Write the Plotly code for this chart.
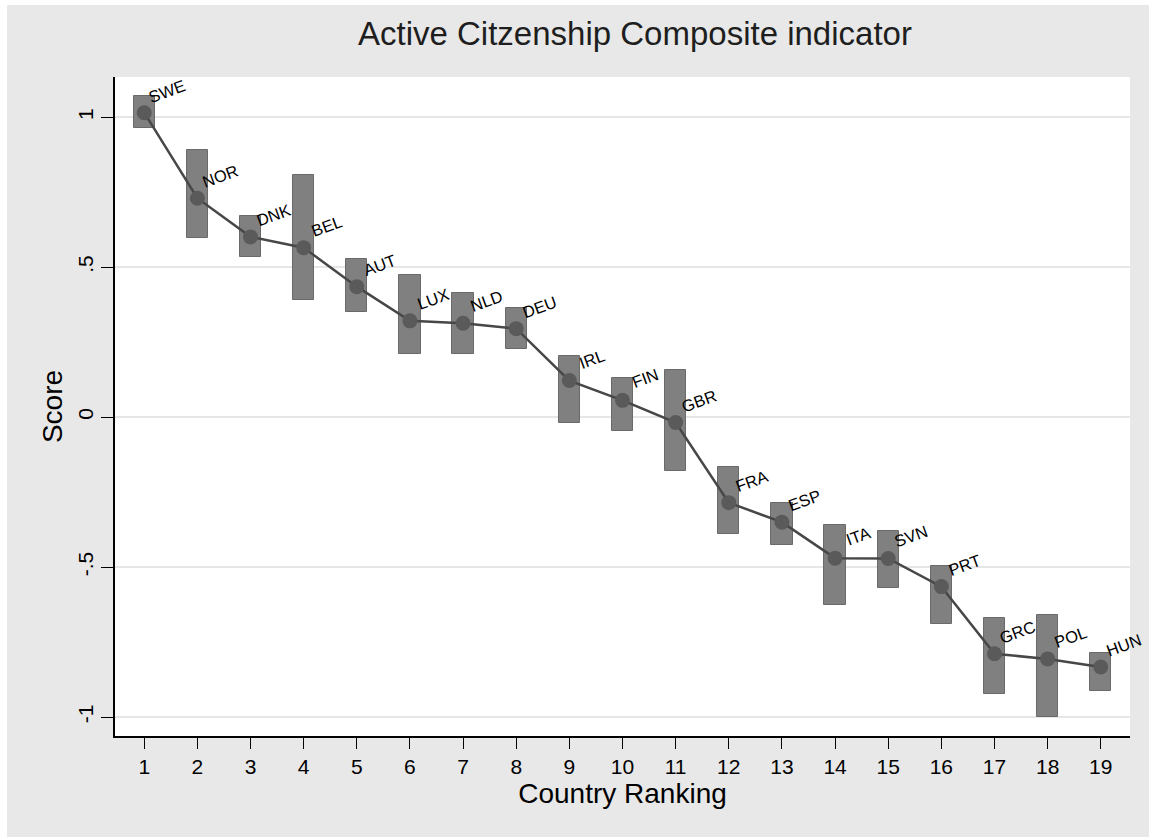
import plotly.graph_objects as go

# Country ranking data: composite score with its uncertainty band
countries = ["SWE", "NOR", "DNK", "BEL", "AUT", "LUX", "NLD", "DEU", "IRL", "FIN",
             "GBR", "FRA", "ESP", "ITA", "SVN", "PRT", "GRC", "POL", "HUN"]
ranking = list(range(1, 20))
score = [1.015, 0.730, 0.601, 0.565, 0.435, 0.321, 0.313, 0.295, 0.122, 0.056,
         -0.018, -0.285, -0.350, -0.470, -0.471, -0.565, -0.789, -0.806, -0.833]
lower = [0.965, 0.598, 0.535, 0.390, 0.351, 0.209, 0.211, 0.228, -0.018, -0.047,
         -0.181, -0.388, -0.427, -0.625, -0.569, -0.691, -0.922, -0.998, -0.912]
upper = [1.072, 0.891, 0.671, 0.807, 0.526, 0.475, 0.415, 0.363, 0.205, 0.131,
         0.156, -0.166, -0.287, -0.361, -0.378, -0.496, -0.668, -0.658, -0.787]
y_tickvals = [-1, -0.5, 0, 0.5, 1]
y_ticktext = ["-1", "-.5", "0", ".5", "1"]

W, H = 1149, 837
ML, MR, MT, MB = 115, 19, 77, 101
PW, PH = W - ML - MR, H - MT - MB

FONT = "Liberation Sans, Arial, sans-serif"

fig = go.Figure()

# Range boxes
fig.add_trace(go.Bar(
    x=ranking,
    y=[u - l for u, l in zip(upper, lower)],
    base=lower,
    width=0.4,
    marker=dict(color="#808080", line=dict(color="#6a6a6a", width=1)),
    hoverinfo="skip",
    showlegend=False,
))

# Score line with markers
fig.add_trace(go.Scatter(
    x=ranking,
    y=score,
    mode="lines+markers",
    line=dict(color="#474747", width=2.5),
    marker=dict(size=15, color="#5a5a5a"),
    showlegend=False,
))

annotations = []
for r, s, c in zip(ranking, score, countries):
    annotations.append(dict(
        x=r, y=s, xref="x", yref="y", text=c, showarrow=False,
        textangle=-20, xshift=23, yshift=22,
        font=dict(family=FONT, size=16.5, color="black"),
    ))

# Title
annotations.append(dict(
    x=(635 - ML) / PW, y=(H - MB - 33) / PH, xref="paper", yref="paper",
    text="Active Citzenship Composite indicator", showarrow=False,
    xanchor="center", yanchor="middle",
    font=dict(family=FONT, size=33, color="#1e1e1e"),
))

# Thin white frame at the left and top page edges
shapes = [
    dict(type="rect", xref="paper", yref="paper", layer="above",
         x0=-ML / PW, x1=-(ML - 7) / PW, y0=-MB / PH, y1=(H - MB) / PH,
         fillcolor="white", line=dict(width=0)),
    dict(type="rect", xref="paper", yref="paper", layer="above",
         x0=-ML / PW, x1=(W - ML) / PW, y0=(H - MB - 5) / PH, y1=(H - MB) / PH,
         fillcolor="white", line=dict(width=0)),
]

fig.update_layout(
    width=W, height=H,
    margin=dict(l=ML, r=MR, t=MT, b=MB, pad=0),
    paper_bgcolor="#e8e8e8",
    plot_bgcolor="white",
    font=dict(family=FONT, color="black"),
    bargap=0,
    annotations=annotations,
    shapes=shapes,
    showlegend=False,
)

fig.update_xaxes(
    range=[0.45, 19.55],
    tickvals=ranking,
    ticktext=[str(r) for r in ranking],
    ticks="outside", ticklen=11, tickwidth=1.3, tickcolor="black",
    showline=True, linecolor="black", linewidth=1.5,
    showgrid=False, zeroline=False,
    tickfont=dict(family=FONT, size=21, color="black"),
    title=dict(text="Country Ranking", standoff=0,
               font=dict(family=FONT, size=28, color="black")),
)

fig.update_yaxes(
    range=[-1.063, 1.134],
    tickvals=y_tickvals,
    ticktext=y_ticktext,
    tickangle=-90,
    ticks="outside", ticklen=12, tickwidth=1.3, tickcolor="black",
    showline=True, linecolor="black", linewidth=1.5,
    showgrid=True, gridcolor="#e6e6e6", gridwidth=2,
    zeroline=False,
    tickfont=dict(family=FONT, size=21, color="black"),
    title=dict(text="Score", standoff=3,
               font=dict(family=FONT, size=28, color="black")),
)

fig.write_html("out.html")
